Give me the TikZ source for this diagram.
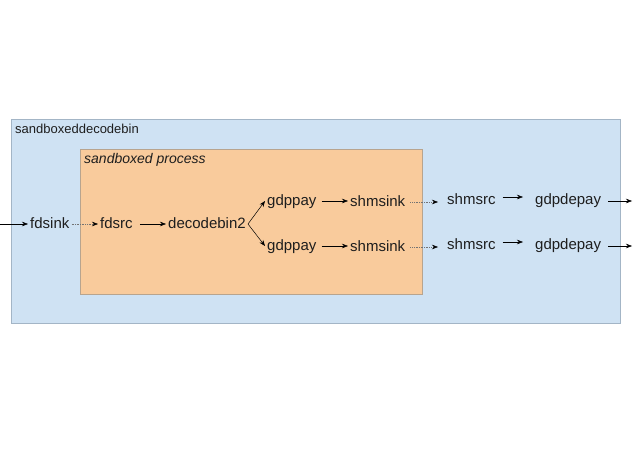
\documentclass[tikz,border=0pt]{standalone}
\usepackage{fontspec}
\setmainfont{Liberation Sans}
\usetikzlibrary{arrows.meta}
\definecolor{outerfill}{HTML}{CFE2F3}
\definecolor{outerdraw}{HTML}{A3B5C6}
\definecolor{innerfill}{HTML}{F9CB9C}
\definecolor{innerdraw}{HTML}{B8A48E}
\definecolor{txt}{HTML}{1E1E1E}
\tikzset{
  elem/.style={anchor=west, inner xsep=2pt, inner ysep=0pt, text height=11pt, text depth=3pt,
    font=\fontsize{15}{15}\selectfont, text=txt},
  flow/.style={-{Stealth[length=6pt,width=4.5pt]}, line width=0.5pt, draw=black},
  link/.style={-{Stealth[length=6pt,width=4.5pt,color=black]}, line width=0.5pt, draw=black!55, dash pattern=on 0.8pt off 0.9pt},
  box/.style={anchor=north west, inner sep=0pt, line width=0.8pt},
  title/.style={anchor=base west, inner sep=0pt, text=txt},
}
\begin{document}
\begin{tikzpicture}[x=1pt,y=-1pt]
\useasboundingbox (0,0) rectangle (638,452);
\node[box, draw=outerdraw, fill=outerfill, minimum width=609pt, minimum height=204pt] (outer) at (11,119) {};
\node[box, draw=innerdraw, fill=innerfill, minimum width=342pt, minimum height=145pt] (inner) at (80,149) {};
\node[title, font=\fontsize{13}{13}\selectfont] (outerlabel) at (15,133) {sandboxeddecodebin};
\node[title, font=\fontsize{14}{14}\selectfont\itshape] (innerlabel) at (84,164) {sandboxed process};

\node[elem] (fdsink) at (28,224) {fdsink};
\node[elem] (fdsrc) at (98,224) {fdsrc};
\node[elem] (decodebin) at (166,224) {decodebin2};
\node[elem] (gdppayA) at (265,201) {gdppay};
\node[elem] (gdppayB) at (265,246) {gdppay};
\node[elem] (shmsinkA) at (348,202) {shmsink};
\node[elem] (shmsinkB) at (348,247) {shmsink};
\node[elem] (shmsrcA) at (445,200) {shmsrc};
\node[elem] (shmsrcB) at (445,245) {shmsrc};
\node[elem] (gdpdepayA) at (533,200) {gdpdepay};
\node[elem] (gdpdepayB) at (533,245) {gdpdepay};
\coordinate (in) at (0,224);
\coordinate (outA) at (632,201);
\coordinate (outB) at (632,246);

\draw[flow] (in) -- (fdsink.west);
\draw[link] (fdsink.east) -- (fdsrc.west);
\draw[flow] ([xshift=5pt]fdsrc.east) -- (decodebin.west);
\draw[flow] (decodebin.east) -- (gdppayA.west);
\draw[flow] (decodebin.east) -- (gdppayB.west);
\draw[flow] ([xshift=3pt]gdppayA.east) -- (shmsinkA.west |- gdppayA.east);
\draw[flow] ([xshift=3pt]gdppayB.east) -- (shmsinkB.west |- gdppayB.east);
\draw[link] ([xshift=3pt]shmsinkA.east) -- ([xshift=-7pt]shmsrcA.west |- shmsinkA.east);
\draw[link] ([xshift=3pt]shmsinkB.east) -- ([xshift=-7pt]shmsrcB.west |- shmsinkB.east);
\draw[flow] ([xshift=5pt,yshift=3pt]shmsrcA.east) -- ([xshift=-10pt,yshift=3pt]gdpdepayA.west);
\draw[flow] ([xshift=5pt,yshift=3pt]shmsrcB.east) -- ([xshift=-10pt,yshift=3pt]gdpdepayB.west);
\draw[flow] ([xshift=5pt]gdpdepayA.east |- outA) -- (outA);
\draw[flow] ([xshift=5pt]gdpdepayB.east |- outB) -- (outB);
\end{tikzpicture}
\end{document}
